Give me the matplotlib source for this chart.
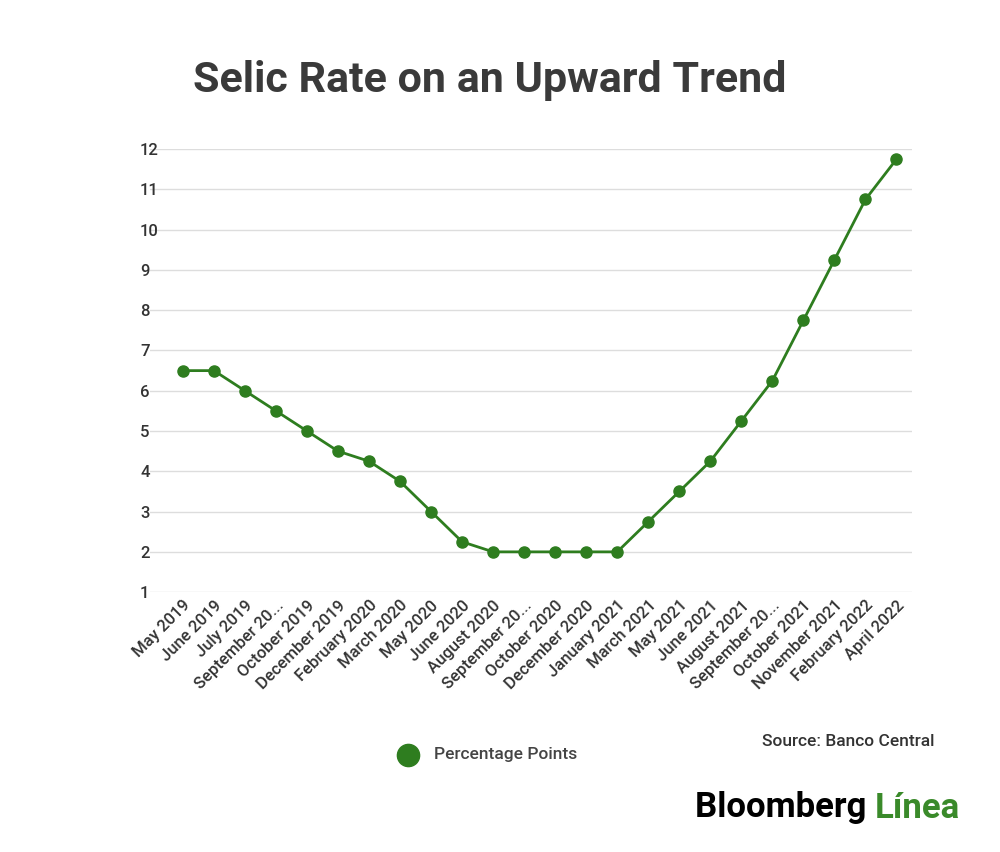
import matplotlib.pyplot as plt

plt.rcParams['font.family'] = ['Roboto', 'DejaVu Sans']

months = ["May 2019", "June 2019", "July 2019", "September 20...", "October 2019",
          "December 2019", "February 2020", "March 2020", "May 2020", "June 2020",
          "August 2020", "September 20...", "October 2020", "December 2020",
          "January 2021", "March 2021", "May 2021", "June 2021", "August 2021",
          "September 20...", "October 2021", "November 2021", "February 2022", "April 2022"]
rate = [6.5, 6.5, 6.0, 5.5, 5.0, 4.5, 4.25, 3.75, 3.0, 2.25, 2.0, 2.0, 2.0, 2.0,
        2.0, 2.75, 3.5, 4.25, 5.25, 6.25, 7.75, 9.25, 10.75, 11.75]

green = '#2e7d1f'
fig = plt.figure(figsize=(10, 8.52), dpi=100)
ax = fig.add_axes([0.15, 0.305, 0.762, 0.52])
x = list(range(len(months)))
ax.plot(x, rate, color=green, lw=2, marker='o', ms=8, zorder=3)
ax.set_xlim(-1.06, len(months) - 0.5)
ax.set_ylim(1, 12)
ax.set_yticks(range(1, 13))
ax.yaxis.grid(True, color='#dddddd', lw=1)
ax.set_axisbelow(True)
for s in ax.spines.values():
    s.set_visible(False)
ax.tick_params(axis='y', length=0, pad=0, labelsize=12, labelcolor='#333333')
ax.set_yticklabels([str(v) for v in range(1, 13)], ha='left', fontweight='medium')
for lab in ax.get_yticklabels():
    lab.set_x(-0.013)
ax.set_xticks(x)
ax.set_xticklabels(months, rotation=45, ha='right', rotation_mode='anchor',
                   fontsize=12, color='#333333', fontweight='medium')
ax.tick_params(axis='x', length=0, pad=4)

fig.text(0.49, 0.905, "Selic Rate on an Upward Trend", ha='center', va='center',
         fontsize=31, fontweight='bold', color='#3a3a3a')
fig.lines.append(plt.Line2D([0.408], [1 - 755 / 852], marker='o', ms=16,
                            color=green, transform=fig.transFigure))
fig.text(0.434, 1 - 755 / 852, "Percentage Points", va='center', fontsize=12.5,
         color='#444444', fontweight='medium')
fig.text(0.935, 1 - 742 / 852, "Source: Banco Central", ha='right', va='center',
         fontsize=12.5, color='#333333', fontweight='medium')
t = fig.text(0.695, 1 - 808 / 852, "Bloomberg ", va='center', fontsize=25,
             fontweight='bold', color='black')
fig.canvas.draw()
bb = t.get_window_extent().transformed(fig.transFigure.inverted())
fig.text(bb.x1, 1 - 808 / 852, "Línea", va='center', fontsize=25,
         fontweight='bold', color='#3a8a2a')

fig.savefig('out.png')
